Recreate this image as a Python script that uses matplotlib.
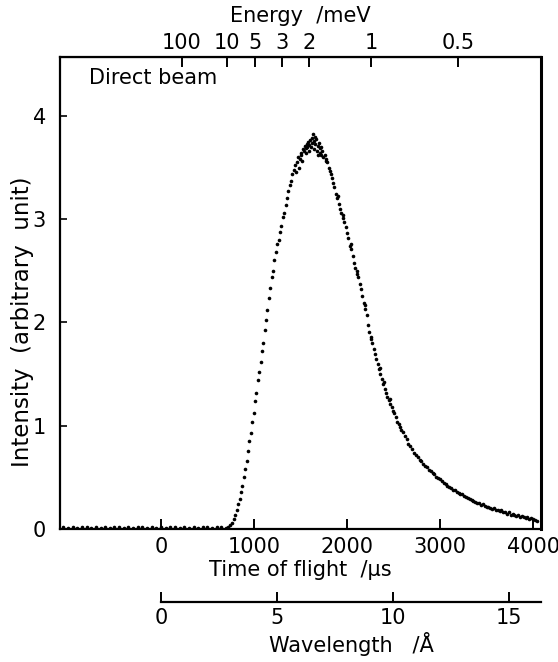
"""Direct beam time-of-flight spectrum with energy and wavelength scales."""

import numpy as np
import matplotlib.pyplot as plt

plt.rcParams["font.family"] = ["DejaVu Sans"]

# conversion: time of flight per Angstrom for this flight path (us / A)
US_PER_ANGSTROM = 249.5
# E [meV] = 81.8 / lambda^2 [A]
E_LAMBDA_CONST = 81.8

# ── data ─────────────────────────────────────────────────────────────────
# flat background before the pulse
tof_base = [-1050, -1000, -950, -900, -850, -800, -750, -700, -650, -600,
            -550, -500, -450, -400, -350, -300, -250, -200, -150, -100,
            -50, 0, 50, 100, 150, 200, 250, 300, 350, 400,
            450, 500, 550, 600, 650, 700]
int_base = [0.02, 0.01, 0.02, 0.01, 0.02, 0.02, 0.01, 0.02, 0.01, 0.02,
            0.01, 0.02, 0.02, 0.01, 0.02, 0.01, 0.02, 0.02, 0.01, 0.02,
            0.01, 0.02, 0.01, 0.02, 0.02, 0.01, 0.02, 0.01, 0.02, 0.01,
            0.02, 0.02, 0.01, 0.02, 0.02, 0.01]

# rising edge up to the peak
tof_rise = [720, 740, 760, 780, 800, 815, 830, 845, 860, 875,
            890, 905, 920, 935, 950, 965, 980, 995, 1010, 1025,
            1040, 1055, 1070, 1085, 1100, 1115, 1130, 1145, 1160, 1175,
            1190, 1205, 1220, 1235, 1250, 1265, 1280, 1295, 1310, 1325,
            1340, 1355, 1370, 1385, 1400, 1410, 1425, 1440, 1450, 1460,
            1475, 1490, 1500, 1510, 1525, 1535, 1545, 1555, 1565, 1575,
            1585, 1595, 1605, 1615, 1625]
int_rise = [0.02, 0.04, 0.06, 0.10, 0.14, 0.18, 0.24, 0.29, 0.36, 0.42,
            0.50, 0.58, 0.66, 0.76, 0.85, 0.93, 1.04, 1.12, 1.24, 1.32,
            1.44, 1.52, 1.62, 1.72, 1.80, 1.93, 2.02, 2.12, 2.24, 2.33,
            2.44, 2.50, 2.60, 2.68, 2.76, 2.80, 2.88, 2.93, 3.02, 3.06,
            3.14, 3.20, 3.27, 3.33, 3.37, 3.44, 3.48, 3.52, 3.46, 3.55,
            3.60, 3.58, 3.64, 3.62, 3.68, 3.66, 3.71, 3.69, 3.73, 3.70,
            3.75, 3.72, 3.77, 3.70, 3.74]

# top of the peak and falling edge
tof_fall = [1634, 1640, 1650, 1660, 1668, 1675, 1685, 1695, 1705, 1715,
            1725, 1735, 1745, 1760, 1775, 1790, 1805, 1820, 1835, 1850,
            1865, 1880, 1895, 1910, 1925, 1940, 1955, 1970, 1985, 2000,
            2015, 2030, 2045, 2060, 2075, 2090, 2105, 2120, 2135, 2150,
            2165, 2180, 2195, 2210, 2225, 2240, 2255, 2270, 2285, 2300,
            2315, 2330, 2345, 2360, 2375, 2390, 2405, 2420, 2435, 2450,
            2465, 2480, 2495, 2510, 2525, 2540, 2555, 2570, 2585, 2600]
int_fall = [3.82, 3.76, 3.68, 3.73, 3.78, 3.66, 3.71, 3.74, 3.64, 3.69,
            3.62, 3.66, 3.60, 3.62, 3.56, 3.55, 3.50, 3.47, 3.40, 3.35,
            3.31, 3.24, 3.20, 3.15, 3.10, 3.06, 3.01, 2.97, 2.92, 2.87,
            2.82, 2.74, 2.71, 2.64, 2.58, 2.53, 2.47, 2.44, 2.37, 2.32,
            2.26, 2.19, 2.13, 2.07, 1.98, 1.91, 1.86, 1.80, 1.74, 1.69,
            1.65, 1.60, 1.55, 1.50, 1.45, 1.40, 1.36, 1.32, 1.28, 1.25,
            1.21, 1.18, 1.14, 1.12, 1.08, 1.04, 1.02, 0.99, 0.96, 0.94]

# second, sparser row of points beside the main trace
tof_scatter = [1480, 1520, 1560, 1590, 1620, 1655, 1690, 1720, 1770, 1830,
               1900, 1960, 2040, 2110, 2190, 2260, 2350, 2400, 2460]
int_scatter = [3.50, 3.56, 3.64, 3.66, 3.79, 3.80, 3.62, 3.70, 3.58, 3.44,
               3.22, 3.04, 2.76, 2.50, 2.17, 1.84, 1.56, 1.42, 1.26]

# long tail
tof_tail = [2620, 2640, 2660, 2680, 2700, 2720, 2740, 2760, 2780, 2800,
            2820, 2840, 2860, 2880, 2900, 2920, 2940, 2960, 2980, 3000,
            3020, 3040, 3060, 3080, 3100, 3120, 3140, 3160, 3180, 3200,
            3220, 3240, 3260, 3280, 3300, 3320, 3340, 3360, 3380, 3400,
            3420, 3440, 3460, 3480, 3500, 3520, 3540, 3560, 3580, 3600,
            3620, 3640, 3660, 3680, 3700, 3720, 3740, 3760, 3780, 3800,
            3820, 3840, 3860, 3880, 3900, 3920, 3940, 3960, 3980, 4000,
            4020, 4040]
int_tail = [0.90, 0.87, 0.82, 0.80, 0.77, 0.74, 0.72, 0.70, 0.67, 0.66,
            0.63, 0.61, 0.60, 0.57, 0.56, 0.54, 0.53, 0.50, 0.49, 0.48,
            0.46, 0.45, 0.44, 0.42, 0.41, 0.40, 0.38, 0.38, 0.36, 0.35,
            0.34, 0.34, 0.32, 0.31, 0.30, 0.29, 0.28, 0.27, 0.26, 0.25,
            0.25, 0.23, 0.24, 0.22, 0.21, 0.21, 0.20, 0.19, 0.20, 0.18,
            0.18, 0.17, 0.18, 0.16, 0.16, 0.15, 0.16, 0.14, 0.15, 0.14,
            0.13, 0.14, 0.12, 0.13, 0.12, 0.11, 0.12, 0.10, 0.11, 0.10,
            0.09, 0.08]

tof_ticks = [0, 1000, 2000, 3000, 4000]
intensity_ticks = [0, 1, 2, 3, 4]
energy_ticks = [100, 10, 5, 3, 2, 1, 0.5]
energy_labels = ["100", "10", "5", "3", "2", "1", "0.5"]
wavelength_ticks = [0, 5, 10, 15]


def tof_from_energy(e):
    lam = np.sqrt(E_LAMBDA_CONST / e)
    return lam * US_PER_ANGSTROM


def main():
    fs = 15
    fig = plt.figure(figsize=(5.58, 6.62), dpi=100)
    fig.patch.set_facecolor("white")
    ax = fig.add_axes([60 / 558, 133 / 662, 481 / 558, 472 / 662])

    tof = tof_base + tof_rise + tof_fall + tof_scatter + tof_tail
    inten = int_base + int_rise + int_fall + int_scatter + int_tail
    ax.plot(tof, inten, "o", ms=2.6, mew=0, color="black")

    ax.set_xlim(-1086, 4086)
    ax.set_ylim(0, 4.57)
    ax.set_xticks(tof_ticks)
    ax.set_yticks(intensity_ticks)
    for s in ax.spines.values():
        s.set_linewidth(1.6)
    ax.spines["right"].set_linewidth(2.2)
    ax.tick_params(axis="x", direction="in", length=7, width=1.4,
                   labelsize=fs, pad=6)
    ax.tick_params(axis="y", direction="in", length=5, width=1.2,
                   labelsize=fs, pad=10)
    ax.set_xlabel("Time of flight  /µs", fontsize=fs, labelpad=2)
    ax.set_ylabel("Intensity  (arbitrary  unit)", fontsize=16.5)
    ax.yaxis.set_label_coords(-0.054, 0.44)

    ax.text(0.06, 0.955, "Direct beam", transform=ax.transAxes,
            fontsize=fs, va="center", ha="left")

    # ── energy scale on top ──────────────────────────────────────────────
    sec = ax.secondary_xaxis("top")
    sec.set_xticks([tof_from_energy(e) for e in energy_ticks],
                   labels=energy_labels)
    sec.tick_params(direction="in", length=7, width=1.4, labelsize=fs, pad=3)
    sec.set_xlabel("Energy  /meV", fontsize=fs, labelpad=8)

    # ── wavelength scale below ───────────────────────────────────────────
    xmin, xmax = ax.get_xlim()
    pos = ax.get_position()
    frac0 = (0 - xmin) / (xmax - xmin)
    lax = fig.add_axes([pos.x0 + pos.width * frac0, 60 / 662,
                        pos.width * (1 - frac0), 0.01])
    lax.patch.set_visible(False)
    for side in ["top", "left", "right"]:
        lax.spines[side].set_visible(False)
    lax.spines["bottom"].set_linewidth(1.6)
    lax.set_yticks([])
    lax.set_xlim(0, xmax / US_PER_ANGSTROM)
    lax.set_xticks(wavelength_ticks)
    lax.tick_params(axis="x", direction="in", length=7, width=1.4,
                    labelsize=fs, pad=4)
    lax.set_xlabel("Wavelength   /Å", fontsize=fs, labelpad=3)

    fig.savefig("out.png", dpi=100, facecolor="white")
    plt.close(fig)


if __name__ == "__main__":
    main()
